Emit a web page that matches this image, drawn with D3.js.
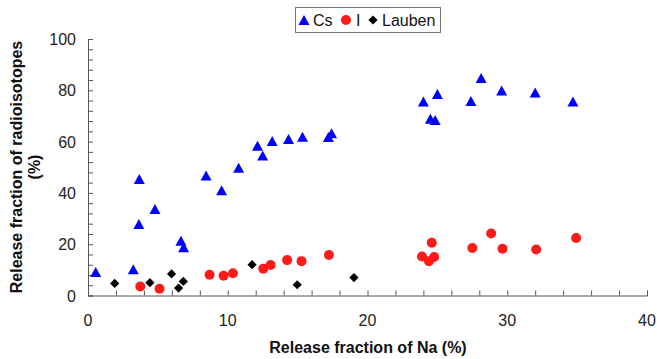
<!DOCTYPE html>
<html><head><meta charset="utf-8">
<script src="https://cdn.jsdelivr.net/npm/d3@7/dist/d3.min.js"></script>
<style>body{margin:0;background:#fff;}svg{display:block;font-family:Arial,"Liberation Sans",sans-serif;}</style>
</head><body>
<svg id="chart" width="657" height="359"></svg>
<script>
const xTicks = [0, 10, 20, 30, 40];
const yTicks = [0, 20, 40, 60, 80, 100];
const seriesNames = ["Cs", "I", "Lauben"];
const csX = [0.55, 3.24, 3.67, 3.64, 4.79, 6.65, 6.84, 8.45, 9.56, 10.78, 12.13, 12.5, 13.18, 14.35, 15.35, 17.2, 17.43, 24.0, 25.0, 24.5, 24.84, 27.4, 28.13, 29.6, 32.0, 34.7];
const csY = [9.2, 10.2, 45.4, 27.9, 33.7, 21.3, 18.8, 46.8, 41.0, 49.8, 58.4, 54.6, 60.2, 61.0, 61.9, 61.8, 63.3, 75.6, 78.6, 68.9, 68.4, 75.8, 84.8, 79.9, 79.1, 75.6];
const iX = [3.74, 5.12, 8.7, 9.7, 10.37, 12.54, 13.07, 14.25, 15.28, 17.24, 23.9, 24.4, 24.77, 24.6, 27.5, 28.85, 29.66, 32.07, 34.93];
const iY = [3.5, 2.6, 8.1, 7.7, 8.7, 10.4, 11.9, 13.8, 13.4, 15.8, 15.2, 13.4, 15.0, 20.6, 18.5, 24.2, 18.2, 17.9, 22.4];
const lbX = [1.91, 4.43, 5.98, 6.48, 6.82, 11.74, 14.97, 19.03];
const lbY = [4.7, 5.0, 8.4, 2.9, 5.5, 12.0, 4.2, 7.0];

const svg = d3.select("#chart");
const x = d3.scaleLinear().domain([0, 40]).range([88, 647]);
const y = d3.scaleLinear().domain([0, 100]).range([295.5, 39]);

const axisColor = "#555";
const gx = svg.append("g").attr("transform", `translate(0,${y(0)})`);
gx.call(d3.axisBottom(x).tickValues(d3.range(0, 40.01, 2)).tickSize(-5).tickFormat(""));
const gy = svg.append("g").attr("transform", `translate(${x(0)},0)`);
gy.call(d3.axisLeft(y).tickValues(d3.range(0, 100.01, 4)).tickSize(-5).tickFormat(""));
[gx, gy].forEach(g => { g.selectAll("path,line").attr("stroke", axisColor).attr("stroke-width", 1); });

svg.append("g").selectAll("text").data(xTicks).join("text")
  .attr("x", d => x(d)).attr("y", 326).attr("text-anchor", "middle")
  .attr("font-size", 16).attr("fill", "#222").text(d => d);
svg.append("g").selectAll("text").data(yTicks).join("text")
  .attr("x", 76).attr("y", d => y(d) + 6).attr("text-anchor", "end")
  .attr("font-size", 16).attr("fill", "#222").text(d => d);

svg.append("text").attr("x", 368).attr("y", 353).attr("text-anchor", "middle")
  .attr("font-size", 16).attr("font-weight", "bold").attr("fill", "#111")
  .text("Release fraction of Na (%)");
const yl = svg.append("text").attr("transform", "translate(22,167) rotate(-90)")
  .attr("text-anchor", "middle").attr("font-size", 16).attr("font-weight", "bold").attr("fill", "#111");
yl.append("tspan").attr("x", 0).attr("dy", 0).text("Release fraction of radioisotopes");
yl.append("tspan").attr("x", 0).attr("dy", 18).text("(%)");

const triType = { draw(ctx, size) { const w = 11, h = 10; ctx.moveTo(0, -h/2); ctx.lineTo(w/2, h/2); ctx.lineTo(-w/2, h/2); ctx.closePath(); } };
const diaType = { draw(ctx, size) { const r = 4.6; ctx.moveTo(0, -r); ctx.lineTo(r, 0); ctx.lineTo(0, r); ctx.lineTo(-r, 0); ctx.closePath(); } };
const cirType = { draw(ctx, size) { const r = 5; ctx.moveTo(r, 0); ctx.arc(0, 0, r, 0, 2 * Math.PI); } };
const styles = [
  {type: triType, color: "#0000ff"},
  {type: cirType, color: "#ff1a1a"},
  {type: diaType, color: "#000000"}
];
const data = [
  csX.map((v, i) => ({x: v, y: csY[i]})),
  iX.map((v, i) => ({x: v, y: iY[i]})),
  lbX.map((v, i) => ({x: v, y: lbY[i]}))
];
data.forEach((pts, k) => {
  svg.append("g").selectAll("path").data(pts).join("path")
    .attr("transform", d => `translate(${x(d.x)},${y(d.y)})`)
    .attr("d", d3.symbol().type(styles[k].type))
    .attr("fill", styles[k].color);
});

const lg = svg.append("g");
lg.append("rect").attr("x", 295.5).attr("y", 7.5).attr("width", 145).attr("height", 25)
  .attr("fill", "#fff").attr("stroke", "#777");
const legPos = [{mx: 304, tx: 313}, {mx: 346, tx: 356}, {mx: 373, tx: 382}];
seriesNames.forEach((n, k) => {
  lg.append("path").attr("transform", `translate(${legPos[k].mx},20)`)
    .attr("d", d3.symbol().type(styles[k].type)).attr("fill", styles[k].color);
  lg.append("text").attr("x", legPos[k].tx).attr("y", 26).attr("font-size", 16).attr("fill", "#111").text(n);
});
</script>
</body></html>
